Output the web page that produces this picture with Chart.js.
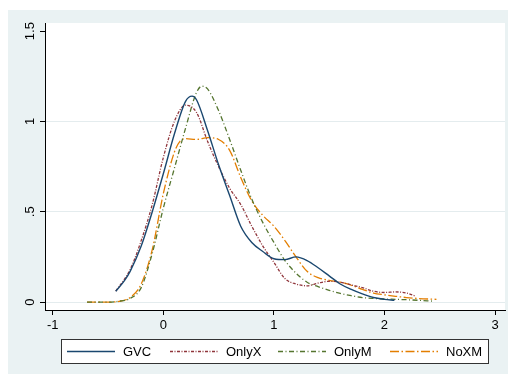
<!DOCTYPE html>
<html>
<head>
<meta charset="utf-8">
<script src="https://cdn.jsdelivr.net/npm/chart.js@4.4.0/dist/chart.umd.min.js"></script>
<style>
  html, body { margin: 0; padding: 0; background: #fff; }
</style>
</head>
<body>
<canvas id="densityChart" width="508" height="374"></canvas>
<script>
// tick labels
const xTicks = [-1, 0, 1, 2, 3];
const yTicks = [0, 0.5, 1, 1.5];

// kernel density curves
const gvcX = [-0.43, -0.35, -0.3, -0.2, -0.1, 0, 0.1, 0.2, 0.26, 0.3, 0.4, 0.5, 0.6, 0.7, 0.8, 0.9, 1.0, 1.1, 1.2, 1.3, 1.4, 1.5, 1.6, 1.7, 1.8, 1.9, 2.0, 2.09];
const gvcY = [0.06, 0.12, 0.17, 0.31, 0.5, 0.71, 0.93, 1.11, 1.14, 1.12, 0.95, 0.76, 0.59, 0.42, 0.33, 0.28, 0.24, 0.235, 0.25, 0.23, 0.19, 0.145, 0.1, 0.07, 0.045, 0.025, 0.015, 0.01];

const onlyXX = [-0.43, -0.3, -0.2, -0.1, 0, 0.1, 0.2, 0.3, 0.4, 0.5, 0.6, 0.7, 0.8, 0.9, 1.0, 1.1, 1.2, 1.3, 1.4, 1.5, 1.6, 1.7, 1.8, 1.9, 2.0, 2.1, 2.2, 2.28];
const onlyXY = [0.06, 0.18, 0.34, 0.54, 0.8, 1.0, 1.09, 1.05, 0.89, 0.75, 0.63, 0.54, 0.42, 0.31, 0.22, 0.13, 0.1, 0.09, 0.105, 0.115, 0.11, 0.095, 0.08, 0.06, 0.053, 0.056, 0.05, 0.033];

const onlyMX = [-0.69, -0.6, -0.5, -0.4, -0.3, -0.2, -0.1, 0, 0.1, 0.2, 0.3, 0.35, 0.4, 0.5, 0.6, 0.7, 0.8, 0.9, 1.0, 1.1, 1.2, 1.3, 1.4, 1.5, 1.6, 1.7, 1.8, 1.9, 2.0, 2.1, 2.2, 2.3, 2.44];
const onlyMY = [0, 0, 0, 0.005, 0.02, 0.08, 0.27, 0.52, 0.74, 0.96, 1.16, 1.195, 1.18, 1.06, 0.9, 0.73, 0.57, 0.44, 0.33, 0.23, 0.16, 0.11, 0.085, 0.065, 0.048, 0.035, 0.025, 0.02, 0.017, 0.015, 0.013, 0.01, 0.005];

const noXMX = [-0.69, -0.6, -0.5, -0.4, -0.3, -0.2, -0.1, 0, 0.1, 0.15, 0.2, 0.3, 0.4, 0.5, 0.6, 0.7, 0.8, 0.9, 1.0, 1.1, 1.2, 1.3, 1.4, 1.5, 1.6, 1.7, 1.8, 1.9, 2.0, 2.1, 2.2, 2.3, 2.47];
const noXMY = [0, 0, 0, 0.004, 0.025, 0.1, 0.29, 0.6, 0.83, 0.89, 0.905, 0.9, 0.91, 0.9, 0.84, 0.69, 0.56, 0.48, 0.42, 0.34, 0.25, 0.17, 0.135, 0.12, 0.11, 0.093, 0.07, 0.05, 0.04, 0.032, 0.025, 0.02, 0.015];

const FONT = '"Liberation Sans", Arial, sans-serif';

function toPoints(xs, ys) {
    return xs.map((x, i) => ({ x: x, y: ys[i] }));
}

// stata-ish backdrop: grey outer region, white plot region
const backdrop = {
    id: 'backdrop',
    beforeDraw(chart) {
        const ctx = chart.ctx;
        const a = chart.chartArea;
        ctx.save();
        ctx.fillStyle = '#ffffff';
        ctx.fillRect(0, 0, chart.width, chart.height);
        ctx.fillStyle = '#eaf2f3';
        ctx.fillRect(8, 10, chart.width - 8, chart.height - 10);
        ctx.fillStyle = '#ffffff';
        ctx.fillRect(a.left, a.top, a.right - a.left, a.bottom - a.top);
        ctx.restore();
    }
};

// boxed legend under the plot
const boxLegend = {
    id: 'boxLegend',
    afterDraw(chart) {
        const ctx = chart.ctx;
        const starts = [67, 170, 278, 390];
        ctx.save();
        ctx.fillStyle = '#ffffff';
        ctx.fillRect(61, 339, 427, 24);
        ctx.strokeStyle = '#333333';
        ctx.lineWidth = 1;
        ctx.strokeRect(61.5, 339.5, 427, 24);
        chart.data.datasets.forEach((ds, i) => {
            const x0 = starts[i];
            ctx.strokeStyle = ds.borderColor;
            ctx.lineWidth = ds.borderWidth;
            ctx.setLineDash(ds.borderDash || []);
            ctx.beginPath();
            ctx.moveTo(x0, 351.5);
            ctx.lineTo(x0 + 48, 351.5);
            ctx.stroke();
            ctx.setLineDash([]);
            ctx.fillStyle = '#000000';
            ctx.font = '13px ' + FONT;
            ctx.textBaseline = 'alphabetic';
            ctx.textAlign = 'left';
            ctx.fillText(ds.label, x0 + 56, 356);
        });
        ctx.restore();
    }
};

const ctx = document.getElementById('densityChart').getContext('2d');

new Chart(ctx, {
    type: 'line',
    data: {
        datasets: [
            { label: 'GVC', data: toPoints(gvcX, gvcY), borderColor: '#1a476f', borderWidth: 1.4, borderDash: [] },
            { label: 'OnlyX', data: toPoints(onlyXX, onlyXY), borderColor: '#90353b', borderWidth: 1.3, borderDash: [3, 1.5, 1, 1.5] },
            { label: 'OnlyM', data: toPoints(onlyMX, onlyMY), borderColor: '#55752f', borderWidth: 1.3, borderDash: [5, 2.5, 1, 2.5] },
            { label: 'NoXM', data: toPoints(noXMX, noXMY), borderColor: '#e37e00', borderWidth: 1.3, borderDash: [9, 2.5, 1.5, 2.5] }
        ]
    },
    options: {
        responsive: false,
        animation: false,
        elements: {
            point: { radius: 0 },
            line: { cubicInterpolationMode: 'monotone', fill: false }
        },
        layout: { padding: { left: 8, right: 3, top: 23, bottom: 0 } },
        scales: {
            x: {
                type: 'linear',
                min: -1.07,
                max: 3.09,
                afterBuildTicks: (scale) => { scale.ticks = xTicks.map(v => ({ value: v })); },
                afterFit: (scale) => { scale.height = 64; },
                grid: { drawOnChartArea: false, drawTicks: true, tickLength: 5, tickColor: '#000' },
                border: { color: '#000', width: 1 },
                ticks: {
                    color: '#000',
                    font: { family: FONT, size: 13 },
                    padding: 3,
                    maxRotation: 0,
                    autoSkip: false,
                    callback: (v) => String(v)
                }
            },
            y: {
                type: 'linear',
                min: -0.044,
                max: 1.545,
                afterBuildTicks: (scale) => { scale.ticks = yTicks.map(v => ({ value: v })); },
                afterFit: (scale) => { scale.width = 37; },
                grid: {
                    color: (c) => (c.tick && c.tick.value === 1.5) ? 'rgba(0,0,0,0)' : '#e4ecee',
                    lineWidth: 1,
                    tickColor: '#000',
                    tickLength: 5
                },
                border: { color: '#000', width: 1 },
                ticks: {
                    color: '#000',
                    font: { family: FONT, size: 13 },
                    minRotation: 90,
                    maxRotation: 90,
                    crossAlign: 'center',
                    padding: 1,
                    autoSkip: false,
                    callback: (v) => v === 0.5 ? '.5' : String(v)
                }
            }
        },
        plugins: {
            legend: { display: false },
            tooltip: { enabled: false }
        }
    },
    plugins: [backdrop, boxLegend]
});
</script>
</body>
</html>
